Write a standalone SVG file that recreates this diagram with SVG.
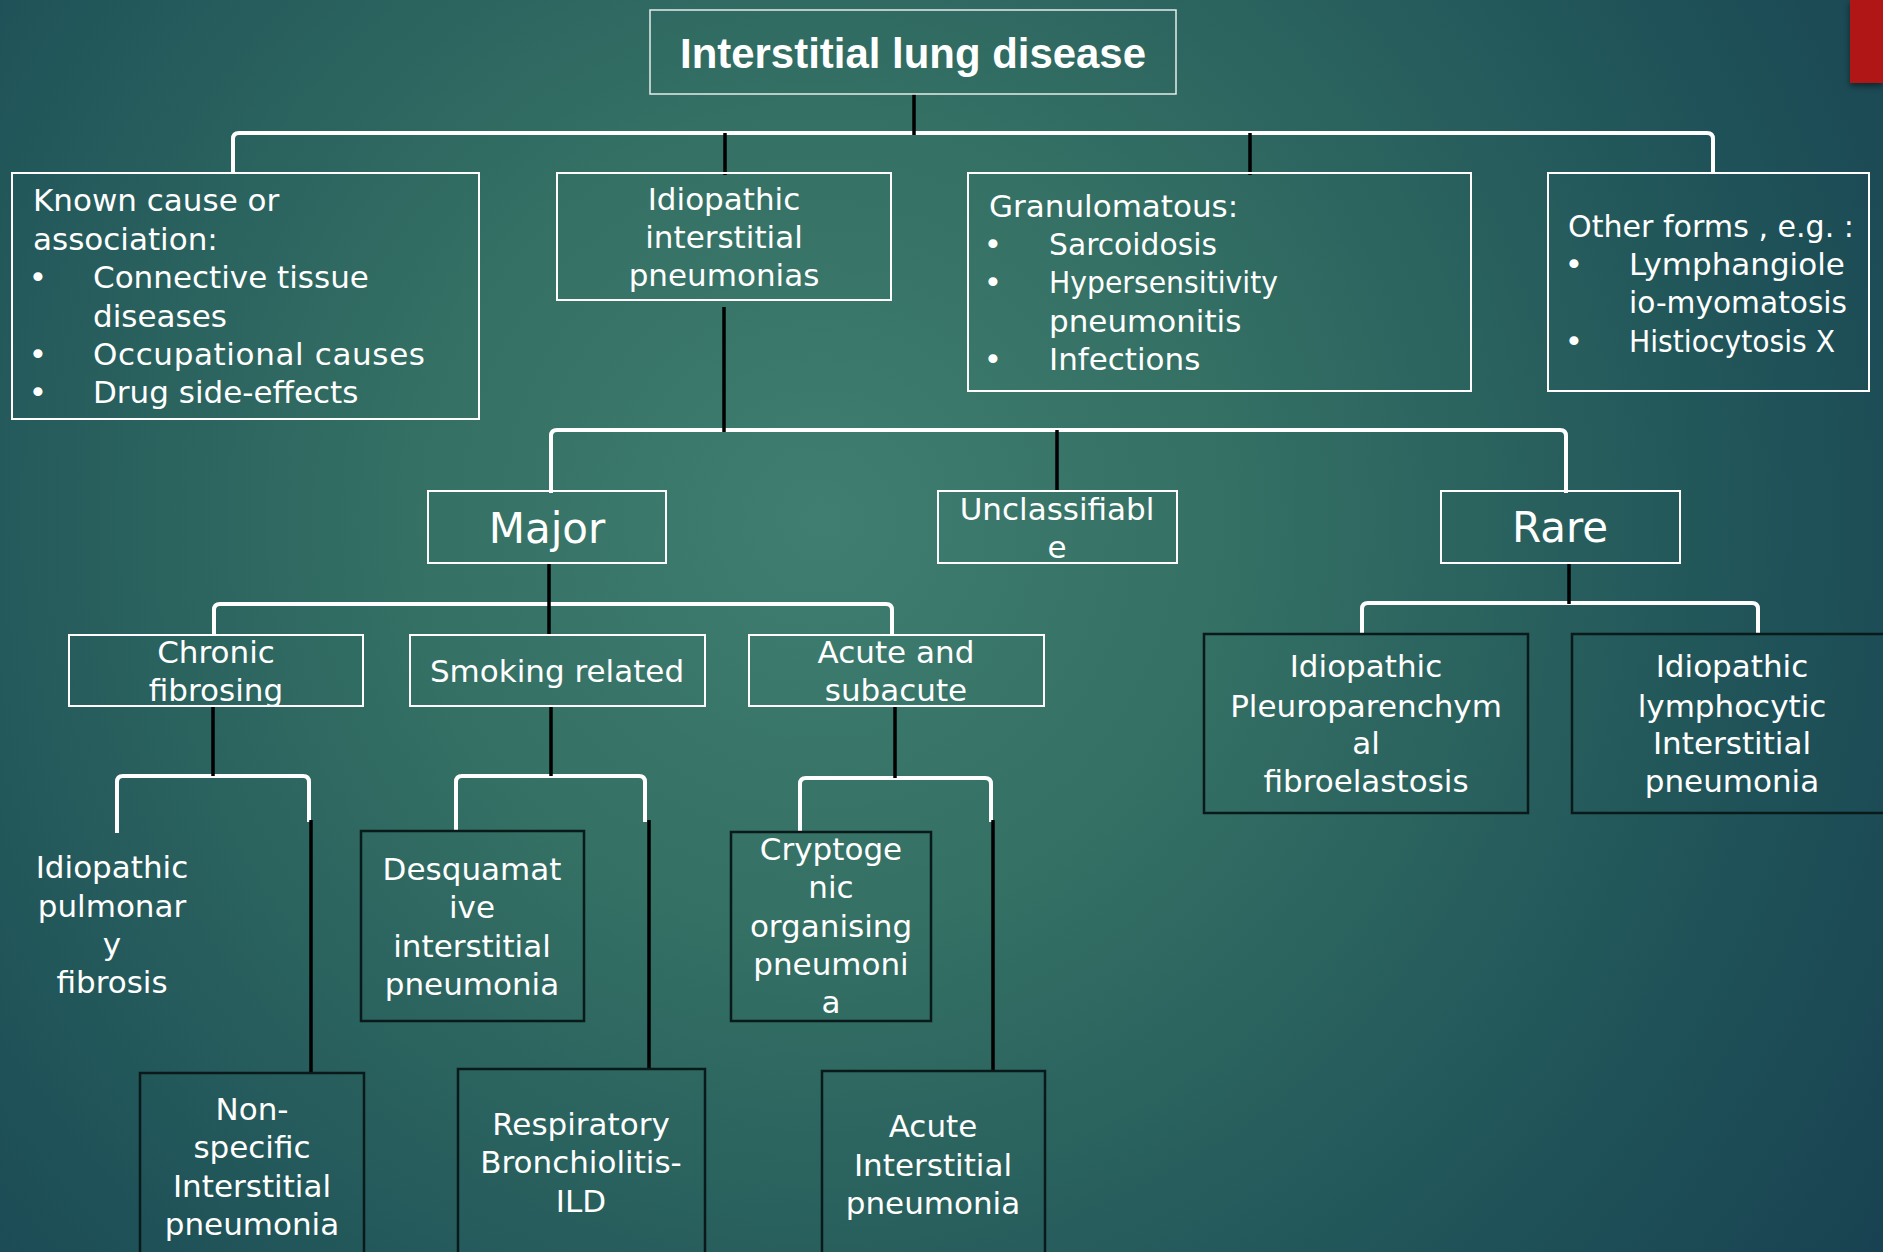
<svg xmlns="http://www.w3.org/2000/svg" width="1883" height="1252" viewBox="0 0 1883 1252">
<defs>
<radialGradient id="bg" gradientUnits="userSpaceOnUse" cx="820" cy="520" r="1380">
<stop offset="0" stop-color="#3f7e70"/>
<stop offset="0.3" stop-color="#347064"/>
<stop offset="0.68" stop-color="#205459"/>
<stop offset="1" stop-color="#163d4f"/>
</radialGradient>
<filter id="sh" x="-50%" y="-20%" width="200%" height="150%"><feDropShadow dx="0" dy="3" stdDeviation="3" flood-color="#000" flood-opacity="0.5"/></filter>
<style>
.bw{fill:none;stroke:#ffffff;stroke-width:2}
.bt{fill:none;stroke:#e6ecea;stroke-width:1.5}
.bk{fill:none;stroke:#0a1a1a;stroke-width:2.5}
.t{font-family:"DejaVu Sans","Liberation Sans",sans-serif;font-size:31px;fill:#ffffff}
.c{text-anchor:middle}
.big{font-size:42px}
.title{font-family:"Liberation Sans",Arial,sans-serif;font-weight:bold;font-size:42px;fill:#ffffff;text-anchor:middle}
.cw{fill:none;stroke:#ffffff;stroke-width:4;stroke-linecap:butt}
.cb{fill:none;stroke:#000000;stroke-width:3.5}
</style>
</defs>
<rect x="0" y="0" width="1883" height="1252" fill="url(#bg)"/>
<rect x="1850" y="0" width="33" height="83" fill="#b01815" filter="url(#sh)"/>

<g id="connectors">
<path class="cw" d="M233,173 V139 Q233,133 239,133 H1707 Q1713,133 1713,139 V173"/>
<path class="cw" d="M551,493 V436 Q551,430 557,430 H1560 Q1566,430 1566,436 V493"/>
<path class="cw" d="M214,635 V610 Q214,604 220,604 H886 Q892,604 892,610 V635"/>
<path class="cw" d="M117,833 V782 Q117,776 123,776 H303 Q309,776 309,782 V822"/>
<path class="cw" d="M456,832 V782 Q456,776 462,776 H639 Q645,776 645,782 V822"/>
<path class="cw" d="M800,833 V784 Q800,778 806,778 H985 Q991,778 991,784 V822"/>
<path class="cw" d="M1362,635 V609 Q1362,603 1368,603 H1752 Q1758,603 1758,609 V635"/>
<path class="cb" d="M914,94 V135"/>
<path class="cb" d="M725,133 V175"/>
<path class="cb" d="M1250,133 V175"/>
<path class="cb" d="M724,307 V432"/>
<path class="cb" d="M1057,430 V491"/>
<path class="cb" d="M549,563 V636"/>
<path class="cb" d="M213,706 V776"/>
<path class="cb" d="M551,706 V776"/>
<path class="cb" d="M895,706 V778"/>
<path class="cb" d="M311,820 V1073"/>
<path class="cb" d="M649,820 V1070"/>
<path class="cb" d="M993,820 V1072"/>
<path class="cb" d="M1569,563 V604"/>
</g>

<g id="n-root">
<rect class="bt" x="650" y="10" width="526" height="84"/>
<text class="title" x="913" y="68" textLength="466" lengthAdjust="spacingAndGlyphs">Interstitial lung disease</text>
</g>

<g id="n-known">
<rect class="bw" x="12" y="173" width="467" height="246"/>
<text class="t" x="33" y="211">Known cause or</text>
<text class="t" x="33" y="250">association:</text>
<text class="t c" x="38" y="288">•</text>
<text class="t" x="93" y="288">Connective tissue</text>
<text class="t" x="93" y="327">diseases</text>
<text class="t c" x="38" y="365">•</text>
<text class="t" x="93" y="365" textLength="332">Occupational causes</text>
<text class="t c" x="38" y="403">•</text>
<text class="t" x="93" y="403">Drug side-effects</text>
</g>

<g id="n-iip">
<rect class="bw" x="557" y="173" width="334" height="127"/>
<text class="t c" x="724" y="210">Idiopathic</text>
<text class="t c" x="724" y="248">interstitial</text>
<text class="t c" x="724" y="286">pneumonias</text>
</g>

<g id="n-gran">
<rect class="bw" x="968" y="173" width="503" height="218"/>
<text class="t" x="989" y="217">Granulomatous:</text>
<text class="t c" x="993" y="255">•</text>
<text class="t" x="1049" y="255" textLength="168" lengthAdjust="spacingAndGlyphs">Sarcoidosis</text>
<text class="t c" x="993" y="293">•</text>
<text class="t" x="1049" y="293" textLength="229" lengthAdjust="spacingAndGlyphs">Hypersensitivity</text>
<text class="t" x="1049" y="332">pneumonitis</text>
<text class="t c" x="993" y="370">•</text>
<text class="t" x="1049" y="370">Infections</text>
</g>

<g id="n-other">
<rect class="bw" x="1548" y="173" width="321" height="218"/>
<text class="t" x="1568" y="237" textLength="286" lengthAdjust="spacingAndGlyphs">Other forms , e.g. :</text>
<text class="t c" x="1574" y="275">•</text>
<text class="t" x="1629" y="275">Lymphangiole</text>
<text class="t" x="1629" y="313" textLength="218" lengthAdjust="spacingAndGlyphs">io-myomatosis</text>
<text class="t c" x="1574" y="352">•</text>
<text class="t" x="1629" y="352" textLength="206" lengthAdjust="spacingAndGlyphs">Histiocytosis X</text>
</g>

<g id="n-major">
<rect class="bw" x="428" y="491" width="238" height="72"/>
<text class="t c big" x="547" y="543">Major</text>
</g>

<g id="n-unclass">
<rect class="bw" x="938" y="491" width="239" height="72"/>
<text class="t c" x="1057" y="520">Unclassifiabl</text>
<text class="t c" x="1057" y="558">e</text>
</g>

<g id="n-rare">
<rect class="bw" x="1441" y="491" width="239" height="72"/>
<text class="t c big" x="1560" y="542">Rare</text>
</g>

<g id="n-chronic">
<rect class="bw" x="69" y="635" width="294" height="71"/>
<text class="t c" x="216" y="663">Chronic</text>
<text class="t c" x="216" y="701">fibrosing</text>
</g>

<g id="n-smoking">
<rect class="bw" x="410" y="635" width="295" height="71"/>
<text class="t c" x="557" y="682">Smoking related</text>
</g>

<g id="n-acute">
<rect class="bw" x="749" y="635" width="295" height="71"/>
<text class="t c" x="896" y="663">Acute and</text>
<text class="t c" x="896" y="701">subacute</text>
</g>

<g id="n-ipf">
<text class="t c" x="112" y="878">Idiopathic</text>
<text class="t c" x="112" y="917">pulmonar</text>
<text class="t c" x="112" y="955">y</text>
<text class="t c" x="112" y="993">fibrosis</text>
</g>

<g id="n-nsip">
<rect class="bk" x="140" y="1073" width="224" height="200"/>
<text class="t c" x="252" y="1120">Non-</text>
<text class="t c" x="252" y="1158">specific</text>
<text class="t c" x="252" y="1197">Interstitial</text>
<text class="t c" x="252" y="1235">pneumonia</text>
</g>

<g id="n-dip">
<rect class="bk" x="361" y="831" width="223" height="190"/>
<text class="t c" x="472" y="880">Desquamat</text>
<text class="t c" x="472" y="918">ive</text>
<text class="t c" x="472" y="957">interstitial</text>
<text class="t c" x="472" y="995">pneumonia</text>
</g>

<g id="n-rbild">
<rect class="bk" x="458" y="1069" width="247" height="200"/>
<text class="t c" x="581" y="1135">Respiratory</text>
<text class="t c" x="581" y="1173">Bronchiolitis-</text>
<text class="t c" x="581" y="1212">ILD</text>
</g>

<g id="n-cop">
<rect class="bk" x="731" y="832" width="200" height="189"/>
<text class="t c" x="831" y="860">Cryptoge</text>
<text class="t c" x="831" y="898">nic</text>
<text class="t c" x="831" y="937">organising</text>
<text class="t c" x="831" y="975">pneumoni</text>
<text class="t c" x="831" y="1013">a</text>
</g>

<g id="n-aip">
<rect class="bk" x="822" y="1071" width="223" height="200"/>
<text class="t c" x="933" y="1137">Acute</text>
<text class="t c" x="933" y="1176">Interstitial</text>
<text class="t c" x="933" y="1214">pneumonia</text>
</g>

<g id="n-ippfe">
<rect class="bk" x="1204" y="634" width="324" height="179"/>
<text class="t c" x="1366" y="677">Idiopathic</text>
<text class="t c" x="1366" y="717">Pleuroparenchym</text>
<text class="t c" x="1366" y="754">al</text>
<text class="t c" x="1366" y="792">fibroelastosis</text>
</g>

<g id="n-lip">
<rect class="bk" x="1572" y="634" width="330" height="179"/>
<text class="t c" x="1732" y="677">Idiopathic</text>
<text class="t c" x="1732" y="717">lymphocytic</text>
<text class="t c" x="1732" y="754">Interstitial</text>
<text class="t c" x="1732" y="792">pneumonia</text>
</g>
</svg>
